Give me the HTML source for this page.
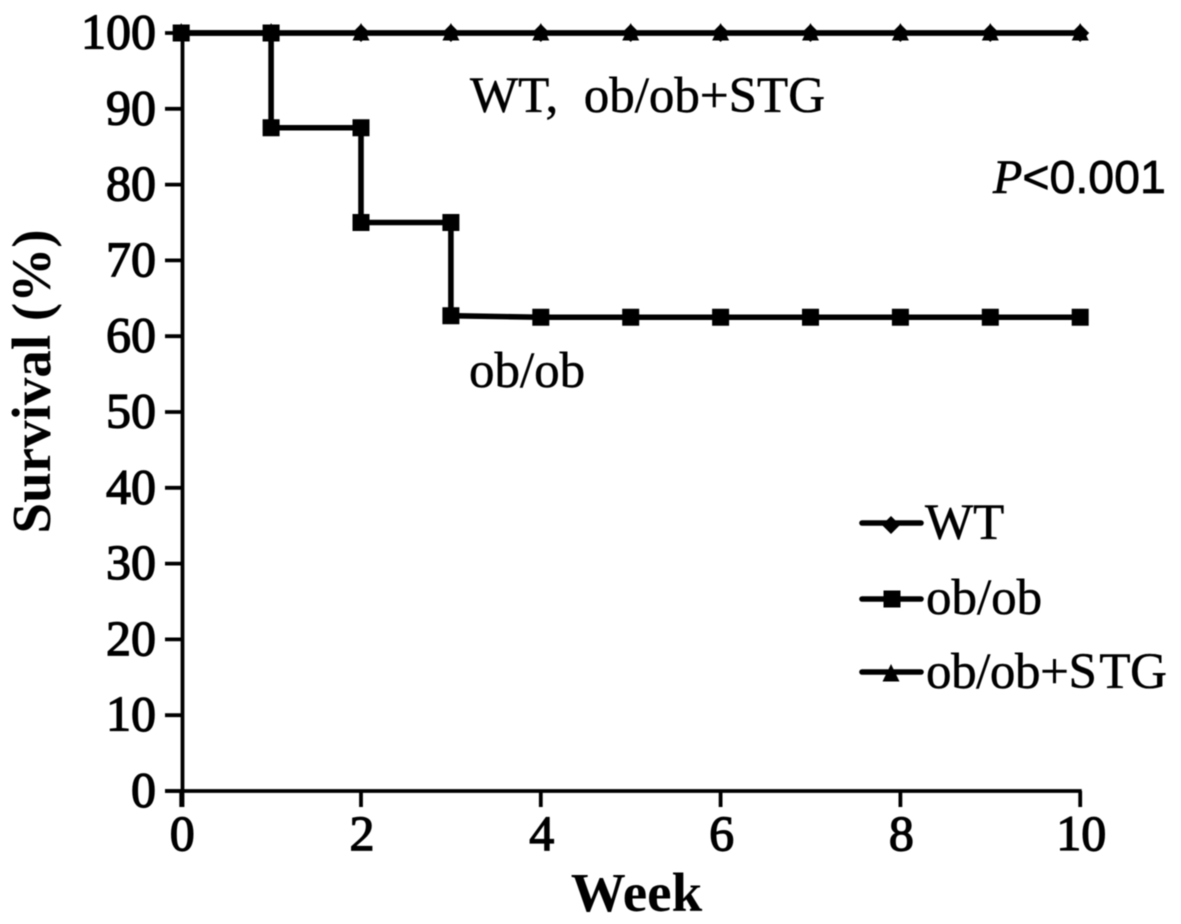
<!DOCTYPE html>
<html lang="en">
<head>
<meta charset="utf-8">
<title>Survival chart</title>
<style>
  html, body { margin: 0; padding: 0; background: #fff; }
  #chart { display: block; width: 1181px; height: 924px; filter: blur(0.4px); }
  text { font-family: "Liberation Serif", serif; fill: #000; }
  .tick-label { font-size: 50px; stroke: #000; stroke-width: 1.3px; }
  .axis-title { font-size: 55px; font-weight: bold; }
  .note { font-size: 51px; stroke: #000; stroke-width: 0.5px; }
</style>
</head>
<body>
<svg id="chart" xmlns="http://www.w3.org/2000/svg" width="1181" height="924" viewBox="0 0 1181 924">
  <rect x="0" y="0" width="1181" height="924" fill="#fff"/>
  <g id="axes"></g>
  <g id="series"></g>
  <text class="axis-title" x="636.5" y="911" text-anchor="middle">Week</text>
  <text class="axis-title" transform="translate(50,381.5) rotate(-90)" text-anchor="middle">Survival (%)</text>
  <text class="note" x="470" y="112" xml:space="preserve">WT,  ob/ob+STG</text>
  <text class="note" x="469" y="387">ob/ob</text>
  <text x="993" y="193" stroke="#000" stroke-width="0.7"><tspan style="font-family:'Liberation Serif',serif;font-style:italic;font-size:48px">P</tspan><tspan style="font-family:'Liberation Sans',sans-serif;font-size:46.5px">&lt;0.001</tspan></text>
  <g id="legend">
    <text class="note" x="925" y="539">WT</text>
    <text class="note" x="926" y="614">ob/ob</text>
    <text class="note" x="926" y="688" textLength="241" lengthAdjust="spacing">ob/ob+S<tspan dx="3">TG</tspan></text>
  </g>
</svg>
<script>
var xTicks = [0, 2, 4, 6, 8, 10];
var yTicks = [0, 10, 20, 30, 40, 50, 60, 70, 80, 90, 100];

var wtWeeks = [0, 1, 2, 3, 4, 5, 6, 7, 8, 9, 10];
var wtValues = [100, 100, 100, 100, 100, 100, 100, 100, 100, 100, 100];

var stgWeeks = [0, 1, 2, 3, 4, 5, 6, 7, 8, 9, 10];
var stgValues = [100, 100, 100, 100, 100, 100, 100, 100, 100, 100, 100];

var obWeeks = [0, 1, 1, 2, 2, 3, 3, 4, 5, 6, 7, 8, 9, 10];
var obValues = [100, 100, 87.5, 87.5, 75, 75, 62.7, 62.5, 62.5, 62.5, 62.5, 62.5, 62.5, 62.5];

var NS = 'http://www.w3.org/2000/svg';
var Y_AXIS_X = 182.5;

function xScale(w) { return 181.2 + (w / 10) * (1080.2 - 181.2); }
function yScale(v) { return 791 - (v / 100) * (791 - 33); }

function make(parent, tag, attrs) {
  var el = document.createElementNS(NS, tag);
  for (var k in attrs) { el.setAttribute(k, attrs[k]); }
  parent.appendChild(el);
  return el;
}

var axes = document.getElementById('axes');
var seriesGroup = document.getElementById('series');
var legend = document.getElementById('legend');
var AXIS_W = 3.8;
var LINE_W = 5.6;

var yLine = make(axes, 'line', { x1: Y_AXIS_X, y1: yScale(100), x2: Y_AXIS_X, y2: 807, stroke: '#000', 'stroke-width': AXIS_W });



var xLine = make(axes, 'line', { x1: 165, y1: yScale(0), x2: xScale(10) + 1.5, y2: yScale(0), stroke: '#000', 'stroke-width': AXIS_W });



yTicks.forEach(function (v) {
  var t = make(axes, 'line', { x1: 165, y1: yScale(v), x2: Y_AXIS_X, y2: yScale(v), stroke: '#000', 'stroke-width': AXIS_W });
  
  
  var l = make(axes, 'text', { x: 156, y: yScale(v) + 15.5, 'text-anchor': 'end', 'class': 'tick-label' });
  l.textContent = String(v);
  
  
});

xTicks.forEach(function (w) {
  var t = make(axes, 'line', { x1: xScale(w), y1: yScale(0), x2: xScale(w), y2: 807, stroke: '#000', 'stroke-width': AXIS_W });
  
  
  var l = make(axes, 'text', { x: xScale(w) + 1, y: 850, 'text-anchor': 'middle', 'class': 'tick-label' });
  l.textContent = String(w);
  
  
});

function polyPoints(weeks, values) {
  return weeks.map(function (w, i) { return xScale(w) + ',' + yScale(values[i]); }).join(' ');
}

function drawDiamond(parent, cx, cy) {
  return make(parent, 'polygon', { points: cx + ',' + (cy - 9) + ' ' + (cx + 9) + ',' + cy + ' ' + cx + ',' + (cy + 9) + ' ' + (cx - 9) + ',' + cy, fill: '#000' });
}
function drawSquare(parent, cx, cy) {
  return make(parent, 'rect', { x: cx - 8.5, y: cy - 8.5, width: 17, height: 17, fill: '#000' });
}
function drawTriangle(parent, cx, cy) {
  return make(parent, 'polygon', { points: cx + ',' + (cy - 10) + ' ' + (cx + 8.5) + ',' + (cy + 7.5) + ' ' + (cx - 8.5) + ',' + (cy + 7.5), fill: '#000' });
}

var wtLine = make(seriesGroup, 'polyline', { points: polyPoints(wtWeeks, wtValues), fill: 'none', stroke: '#000', 'stroke-width': LINE_W });


wtWeeks.forEach(function (w, i) {
  var m = drawDiamond(seriesGroup, xScale(w), yScale(wtValues[i]));
  
  
});

var stgLine = make(seriesGroup, 'polyline', { points: polyPoints(stgWeeks, stgValues), fill: 'none', stroke: '#000', 'stroke-width': LINE_W });


stgWeeks.forEach(function (w, i) {
  var m = drawTriangle(seriesGroup, xScale(w), yScale(stgValues[i]));
  
  
});

var obLine = make(seriesGroup, 'polyline', { points: polyPoints(obWeeks, obValues), fill: 'none', stroke: '#000', 'stroke-width': LINE_W, 'stroke-linejoin': 'miter' });


obWeeks.forEach(function (w, i) {
  var m = drawSquare(seriesGroup, xScale(w), yScale(obValues[i]));
  
  
});

var keyWt = make(legend, 'line', { x1: 862, y1: 523, x2: 921, y2: 523, stroke: '#000', 'stroke-width': LINE_W, 'stroke-linecap': 'round' });


var keyWtMark = drawDiamond(legend, 891, 525);



var keyOb = make(legend, 'line', { x1: 862, y1: 599, x2: 921, y2: 599, stroke: '#000', 'stroke-width': LINE_W, 'stroke-linecap': 'round' });


var keyObMark = drawSquare(legend, 892, 599);



var keyStg = make(legend, 'line', { x1: 862, y1: 672, x2: 921, y2: 672, stroke: '#000', 'stroke-width': LINE_W, 'stroke-linecap': 'round' });


var keyStgMark = drawTriangle(legend, 891, 674);


</script>
</body>
</html>
